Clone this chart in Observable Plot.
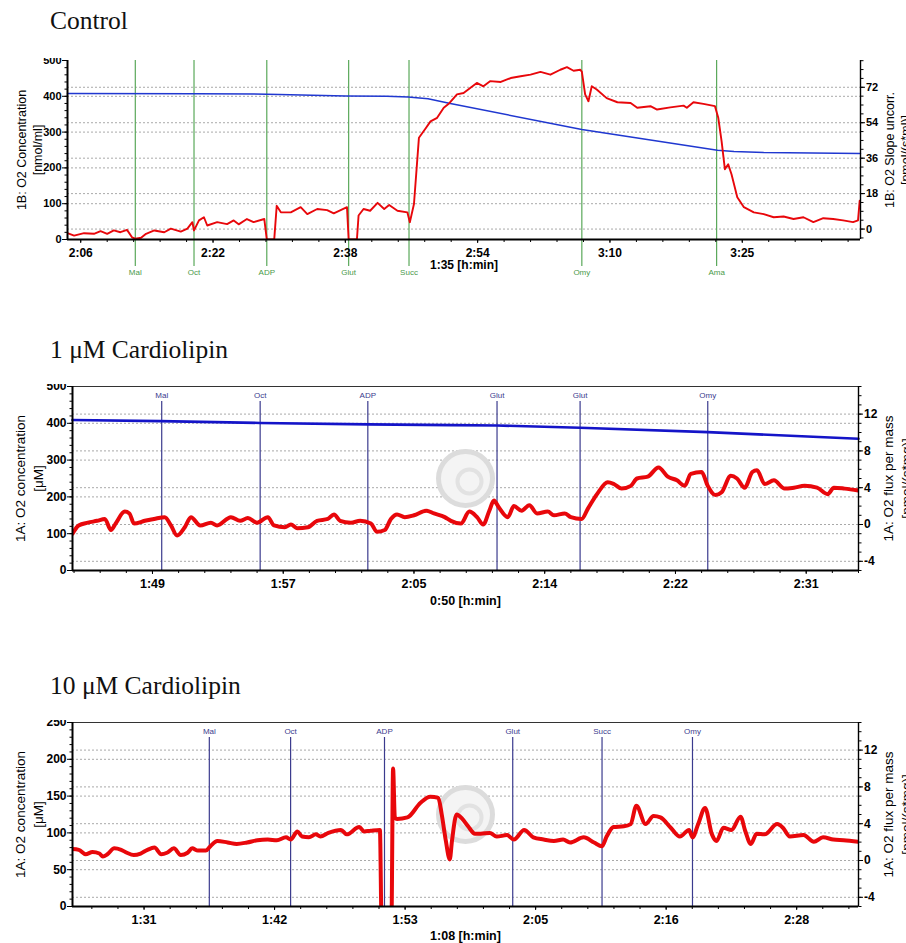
<!DOCTYPE html>
<html><head><meta charset="utf-8">
<script src="https://cdn.jsdelivr.net/npm/d3@7"></script>
<script src="https://cdn.jsdelivr.net/npm/@observablehq/plot@0.6"></script>
<style>
body{margin:0;background:#fff;}
#wrap{position:relative;width:906px;height:943px;overflow:hidden;background:#fff;}
.title{position:absolute;left:50px;font-family:"Liberation Serif","Times New Roman",serif;font-size:25.5px;line-height:1;color:#111;white-space:nowrap;}
.panel{position:absolute;left:0;}
</style></head><body><div id="wrap"></div>
<script>
// ---------- Panel 1: Control ----------
const ctrlXTicks = [126,142,158,174,190,206];
const ctrlXLabels = ["2:06","2:22","2:38","2:54","3:10","3:25"];
const ctrlEventNames = ["Mal","Oct","ADP","Glut","Succ","Omy","Ama"];
const ctrlEventTimes = [132.6,139.7,148.5,158.4,165.7,186.6,202.9];
const ctrlConcTime = [124.4,140,148.5,150,158,163,165.6,168,170.7,186.6,203,205,208.6,220.3];
const ctrlConc = [408,407,406,405,401,400,398,393,380,307,249,246,243,240];
const ctrlSlopeTime = [124.4,125.2,126.4,127.6,128.4,129.2,130.0,130.8,131.6,132.2,132.6,133.3,133.9,134.9,136.1,136.9,138.1,138.9,139.5,139.7,140.3,140.9,141.3,142.5,143.7,144.5,145.1,146.1,146.9,148.2,148.5,149.4,149.7,150.2,151.4,152.6,153.4,154.6,155.8,156.6,158.2,158.4,159.4,159.6,160.2,161.0,161.9,162.7,163.3,164.3,165.5,165.8,166.3,166.9,167.7,168.3,169.1,169.9,170.5,171.5,172.3,173.1,173.9,174.7,175.5,176.8,178.0,179.2,180.4,181.6,182.8,184.0,184.8,185.6,186.4,186.6,187.0,187.4,187.8,188.4,189.6,190.9,192.5,193.3,194.9,195.7,197.3,198.9,199.3,200.1,201.3,202.7,203.1,203.5,203.9,204.3,204.7,205.4,206.2,207.4,208.6,209.8,211.0,212.2,213.4,214.6,215.8,217.0,218.2,219.4,220.0,220.2];
const ctrlSlope = [-2.1,-3.3,-2.1,-2.4,-1.1,-2.4,-0.7,-1.6,-0.4,-4.2,-4.9,-4.4,-2.4,-0.7,-1.6,0.2,-1.3,0.2,3.5,-0.7,4.4,6.0,1.8,3.5,2.5,4.4,2.4,5.1,3.5,5.1,-5.3,-5.3,11.8,8.5,8.5,11.1,7.6,10.2,9.6,8.0,11.1,-5.3,-5.3,6.9,10.2,9.3,13.3,10.2,12.2,9.3,8.5,3.5,12.7,46.4,51.1,54.7,56.5,61.6,63.6,68.4,69.1,71.6,74.2,72.5,75.1,74.7,76.7,77.6,78.4,79.8,78.4,80.9,82.2,80.4,80.9,80.0,68.4,64.9,72.5,70.9,66.5,64.4,64.0,61.6,62.4,60.7,61.8,62.7,61.6,64.4,63.6,62.4,56.5,44.7,30.4,32.9,27.8,16.2,11.1,8.5,7.6,6.0,6.4,5.1,6.0,3.5,5.5,5.1,4.4,3.5,4.4,14.4];

// ---------- Panel 2: 1 µM Cardiolipin ----------
const cl1XTicks = [109,117.5,126,134.5,143,151.5];
const cl1XLabels = ["1:49","1:57","2:05","2:14","2:22","2:31"];
const cl1EventNames = ["Mal","Oct","ADP","Glut","Glut","Omy"];
const cl1EventTimes = [109.6,116.0,123.0,131.4,136.8,145.1];
const cl1ConcTime = [103.8,109.5,116,123,128.4,131.4,136.8,145.1,154.9];
const cl1Conc = [409,406,401,397,395,394,388,376,358];
const cl1SlopeTime = [103.8,104.2,104.8,105.4,105.9,106.3,106.6,107.2,107.5,107.8,108.5,109.1,109.8,110.2,110.6,111.1,111.5,112.1,112.8,113.2,114.1,114.7,115.2,115.8,116.5,116.9,117.6,118.0,118.4,119.1,119.7,120.4,120.8,121.2,121.9,122.5,123.2,123.6,124.1,124.5,124.9,125.4,126.0,126.8,127.3,128.0,128.4,129.05,129.6,130.1,130.5,130.9,131.2,131.5,132.1,132.5,133.0,133.5,134.0,134.7,135.1,135.8,136.2,136.9,137.3,137.9,138.6,139.0,139.5,140.1,140.5,141.2,141.9,142.5,143.1,143.6,144.0,144.7,145.1,145.6,146.0,146.6,147.0,147.5,148.0,148.3,148.8,149.4,150.1,150.7,151.4,152.2,152.9,153.3,154.0,154.9];
const cl1Slope = [-1.0,-0.1,0.2,0.4,0.6,-0.6,0.1,1.4,1.2,0.1,0.4,0.6,0.8,-0.1,-1.2,-0.3,0.8,-0.1,0.2,-0.1,0.8,0.4,0.7,0.2,0.8,-0.1,-0.3,0.0,-0.4,-0.3,0.4,0.6,1.1,0.4,0.2,0.4,0.1,-0.8,-0.6,0.6,1.1,0.8,1.0,1.5,1.2,0.8,0.4,0.1,1.4,0.8,0.0,1.5,2.6,1.9,0.8,2.0,1.5,2.1,1.2,1.4,1.0,1.2,0.8,0.6,1.7,3.3,4.6,4.4,3.9,4.2,5.0,5.2,6.2,5.2,4.8,4.2,5.5,5.7,4.2,3.2,3.5,5.3,5.0,4.0,5.7,5.9,4.4,4.8,3.9,4.0,4.2,4.0,3.3,4.0,3.9,3.7];

// ---------- Panel 3: 10 µM Cardiolipin ----------
const cl10XTicks = [91,102.4,113.8,125.2,136.6,148];
const cl10XLabels = ["1:31","1:42","1:53","2:05","2:16","2:28"];
const cl10EventNames = ["Mal","Oct","ADP","Glut","Succ","Omy"];
const cl10EventTimes = [96.7,103.8,112.0,123.2,131.0,138.9];
const cl10SlopeTime = [84.75,85.3,85.9,86.5,87.1,87.4,87.8,88.4,89.0,89.5,90.1,90.7,91.3,91.9,92.5,93.0,93.6,94.2,94.8,95.2,95.7,96.4,96.8,97.4,98.3,99.1,100.0,100.9,101.8,102.6,103.4,103.8,104.4,104.8,105.4,106.0,106.4,107.1,108.2,108.7,109.8,110.2,110.8,111.6,111.75,112.6,112.75,112.9,113.1,114.0,115.15,116.0,116.7,117.0,117.35,117.7,117.9,118.3,118.8,119.3,119.9,120.4,121.2,121.8,122.7,123.3,124.2,125.0,125.9,126.8,127.6,128.2,129.4,130.3,131.0,131.4,132.0,132.9,133.5,134.0,134.8,135.5,136.1,137.0,137.8,138.6,138.9,139.4,140.0,140.6,141.0,141.6,142.3,143.1,143.5,144.0,144.5,145.2,146.3,146.8,147.4,148.6,149.5,150.3,151.2,152.1,153.4];
const cl10Slope = [1.24,1.16,0.68,0.92,0.76,0.44,0.68,1.32,1.16,0.84,0.6,0.76,1.16,1.4,0.68,0.84,1.32,0.6,0.84,1.32,1.08,1.08,1.56,2.12,1.96,1.8,1.96,2.2,2.28,2.2,2.52,2.28,3.16,2.6,2.52,2.84,2.6,3.0,3.32,2.84,3.64,3.16,3.24,3.32,-7,-7,10.0,4.7,4.52,4.68,6.28,6.92,6.8,5.0,2.2,0.12,2.2,5.0,4.52,3.72,2.92,2.92,3.0,2.6,2.76,2.28,3.32,2.52,2.28,2.12,2.28,1.96,2.52,1.96,1.56,2.6,3.64,3.72,3.96,5.96,3.96,4.84,4.68,3.56,2.6,3.32,2.52,3.96,5.72,2.84,2.12,3.56,3.32,4.76,3.24,1.8,2.92,2.84,3.96,3.56,2.6,2.76,2.04,2.52,2.28,2.2,2.04];

const grid = {stroke: "#a9a9a9", strokeOpacity: 1, strokeDasharray: "2,2", strokeWidth: 1};

function makePanel(c) {
  const [y0, y1] = c.yDomain, [r0, r1] = c.rDomain;
  const toL = r => y0 + (r - r0) / (r1 - r0) * (y1 - y0);
  const toR = l => r0 + (l - y0) / (y1 - y0) * (r1 - r0);
  const xLab = new Map(c.xTicks.map((t, i) => [t, c.xLabels[i]]));
  const slope = c.slopeTime.map((t, i) => ({t, v: toL(c.slope[i])}));
  const conc = c.concTime ? c.concTime.map((t, i) => ({t, v: c.conc[i]})) : [];
  const rMajor = c.rTicks.map(toL);
  const rMinor = c.rMinor.map(toL);
  const marks = [Plot.gridY(c.yGrid, grid), Plot.gridY(rMajor, grid)];
  if (c.watermark) {
    marks.push(Plot.dot([0], {frameAnchor: "middle", r: 27, fill: "#f4f4f4", stroke: "#dcdcdc", strokeWidth: 5}));
    marks.push(Plot.dot([0], {frameAnchor: "middle", r: 12, fill: "none", stroke: "#e2e2e2", strokeWidth: 4, dx: 4, dy: 3}));
  }
  if (c.boxed) marks.push(Plot.frame({stroke: "#333", strokeWidth: 1}));
  if (c.eventsBelow) {
    marks.push(Plot.ruleX(c.eventTimes, {stroke: c.eventColor, strokeWidth: 1.2, insetBottom: -27}));
    marks.push(Plot.text(c.eventNames, {x: c.eventTimes, frameAnchor: "bottom", lineAnchor: "middle", dy: 33, fill: c.eventTextColor, fontSize: 8, fontWeight: "normal"}));
  } else {
    marks.push(Plot.ruleX(c.eventTimes, {stroke: c.eventColor, strokeWidth: 1.2, insetTop: 15}));
    marks.push(Plot.text(c.eventNames, {x: c.eventTimes, frameAnchor: "top", lineAnchor: "middle", dy: 9, fill: c.eventTextColor, fontSize: 8, fontWeight: "normal"}));
  }
  if (conc.length) marks.push(Plot.line(conc, {x: "t", y: "v", stroke: c.concColor, strokeWidth: c.concWidth}));
  marks.push(Plot.line(slope, {x: "t", y: "v", stroke: "#e8070b", strokeWidth: c.slopeWidth, curve: c.curve, clip: true, strokeLinejoin: "round"}));
  marks.push(Plot.ruleY([y0], {strokeWidth: 2}));
  marks.push(Plot.ruleX([c.xDomain[0]], {strokeWidth: 2}));
  marks.push(Plot.ruleX([c.xDomain[1]], {strokeWidth: 1.4}));
  marks.push(Plot.axisX(c.xMinor, {tickSize: 3, tickFormat: () => "", label: null}));
  marks.push(Plot.axisX(c.xTicks, {tickSize: 4, tickPadding: 4.5, tickFormat: d => xLab.get(d), fontSize: c.xFont, label: null}));
  marks.push(Plot.axisY(c.yMinor, {anchor: "left", tickSize: 2.5, tickFormat: () => "", label: null}));
  marks.push(Plot.axisY(c.yTicks, {anchor: "left", tickSize: 5, tickPadding: 1, tickFormat: d => String(d), fontSize: c.yFont, label: null}));
  marks.push(Plot.axisY(rMinor, {anchor: "right", tickSize: 2.5, tickFormat: () => "", label: null}));
  marks.push(Plot.axisY(rMajor, {anchor: "right", tickSize: 4, tickPadding: 1.5, tickFormat: d => String(Math.round(toR(d))), fontSize: c.yFont, label: null}));
  marks.push(Plot.text([c.yTitle], {frameAnchor: "left", textAnchor: "middle", lineAnchor: "middle", dx: c.yTitleDx, rotate: -90, fontSize: c.titleFont, fontWeight: "normal", lineHeight: 1.28}));
  marks.push(Plot.text([c.rTitle], {frameAnchor: "right", textAnchor: "middle", lineAnchor: "middle", dx: c.rTitleDx, rotate: -90, fontSize: c.titleFont, fontWeight: "normal", lineHeight: 1.28}));
  marks.push(Plot.text([c.xTitle], {frameAnchor: "bottom", lineAnchor: "middle", dy: c.xTitleDy, fontSize: c.xFont, fontWeight: "bold"}));
  return Plot.plot({
    width: 906, height: c.height,
    marginTop: 2, marginBottom: c.marginBottom, marginLeft: c.marginLeft, marginRight: c.marginRight,
    x: {domain: c.xDomain, label: null},
    y: {domain: c.yDomain, label: null},
    style: {fontFamily: "'Liberation Sans', Arial, sans-serif", fontSize: "11px", fontWeight: "bold", background: "white", color: "black", overflow: "hidden"},
    marks
  });
}

const panels = [
  {
    title: "Control", titleTop: 7.6, top: 58, height: 224, marginBottom: 43, marginLeft: 67, marginRight: 46,
    xDomain: [124.4, 220.3], xTicks: ctrlXTicks, xLabels: ctrlXLabels, xMinor: d3.range(126, 221, 3.2),
    yDomain: [0, 500], yTicks: [0,100,200,300,400,500], yMinor: d3.range(0, 501, 20), yGrid: [100,200,300,400],
    rDomain: [-5.3, 85.6], rTicks: [0,18,36,54,72], rMinor: d3.range(-4.5, 86, 4.5),
    eventNames: ctrlEventNames, eventTimes: ctrlEventTimes, eventColor: "#5aa85a", eventTextColor: "#4a9a4a", eventsBelow: true,
    concTime: ctrlConcTime, conc: ctrlConc, concColor: "#2038d0", concWidth: 1.5,
    slopeTime: ctrlSlopeTime, slope: ctrlSlope, slopeWidth: 1.9, curve: "linear",
    yTitle: "1B: O2 Concentration\n[nmol/ml]", rTitle: "1B: O2 Slope uncorr.\n[pmol/(s*ml)]",
    xTitle: "1:35 [h:min]", xTitleDy: 26, yTitleDx: -39, rTitleDx: 36, titleFont: 12.5, xFont: 12, yFont: 11,
    boxed: false, watermark: false
  },
  {
    title: "1 μM Cardiolipin", titleTop: 336.6, top: 384, height: 228, marginBottom: 42, marginLeft: 72, marginRight: 48,
    xDomain: [103.8, 154.9], xTicks: cl1XTicks, xLabels: cl1XLabels, xMinor: d3.range(103.9, 155, 1.7),
    yDomain: [0, 500], yTicks: [0,100,200,300,400,500], yMinor: d3.range(0, 501, 20), yGrid: [100,200,300,400],
    rDomain: [-5, 15], rTicks: [-4,0,4,8,12], rMinor: d3.range(-5, 15.5, 1),
    eventNames: cl1EventNames, eventTimes: cl1EventTimes, eventColor: "#3b3b8e", eventTextColor: "#3b3b8e", eventsBelow: false,
    concTime: cl1ConcTime, conc: cl1Conc, concColor: "#1414c8", concWidth: 2.6,
    slopeTime: cl1SlopeTime, slope: cl1Slope, slopeWidth: 4, curve: "monotone-x",
    yTitle: "1A: O2 concentration\n[μM]", rTitle: "1A: O2 flux per mass\n[pmol/(s*mg)]",
    xTitle: "0:50 [h:min]", xTitleDy: 30, yTitleDx: -44, rTitleDx: 38, titleFont: 13.5, xFont: 12.5, yFont: 12,
    boxed: true, watermark: true
  },
  {
    title: "10 μM Cardiolipin", titleTop: 672.6, top: 720, height: 223, marginBottom: 37, marginLeft: 72, marginRight: 48,
    xDomain: [84.75, 153.4], xTicks: cl10XTicks, xLabels: cl10XLabels, xMinor: d3.range(86.44, 154, 2.28),
    yDomain: [0, 250], yTicks: [0,50,100,150,200,250], yMinor: d3.range(0, 251, 10), yGrid: [50,100,150,200],
    rDomain: [-5, 15], rTicks: [-4,0,4,8,12], rMinor: d3.range(-5, 15.5, 1),
    eventNames: cl10EventNames, eventTimes: cl10EventTimes, eventColor: "#3b3b8e", eventTextColor: "#3b3b8e", eventsBelow: false,
    concTime: null, conc: null,
    slopeTime: cl10SlopeTime, slope: cl10Slope, slopeWidth: 4, curve: "monotone-x",
    yTitle: "1A: O2 concentration\n[μM]", rTitle: "1A: O2 flux per mass\n[pmol/(s*mg)]",
    xTitle: "1:08 [h:min]", xTitleDy: 29, yTitleDx: -44, rTitleDx: 38, titleFont: 13.5, xFont: 12.5, yFont: 12,
    boxed: true, watermark: true
  }
];

const wrap = document.getElementById("wrap");
for (const p of panels) {
  const t = document.createElement("div");
  t.className = "title";
  t.style.top = p.titleTop + "px";
  t.textContent = p.title;
  wrap.appendChild(t);
  const svg = makePanel(p);
  svg.classList.add("panel");
  svg.style.top = p.top + "px";
  svg.style.position = "absolute";
  wrap.appendChild(svg);
}
</script>
</body></html>
